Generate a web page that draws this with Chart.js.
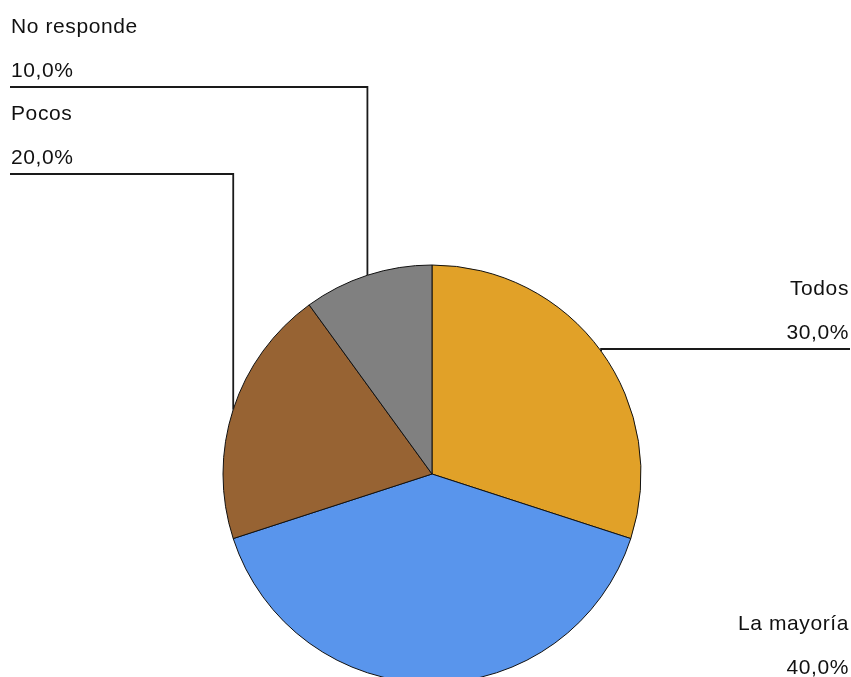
<!DOCTYPE html>
<html lang="es">
<head>
    <meta charset="UTF-8">
    <title>Distribución de respuestas</title>
    <script src="https://cdn.jsdelivr.net/npm/chart.js"></script>
    <style>
        html, body {
            margin: 0;
            padding: 0;
            background: #fff;
            overflow: hidden;
        }

        .chart-box {
            width: 851px;
            height: 700px;
            position: relative;
        }
    </style>
</head>
<body>
    <div class="chart-box">
        <canvas id="pieChart"></canvas>
    </div>

    <script>
        const categories = ["Todos", "La mayoría", "Pocos", "No responde"];
        const percentages = [30, 40, 20, 10];

        const sliceColors = ["#e1a128", "#5995ec", "#976333", "#808080"];

        // where each label's leader line ends up (side of the chart, y of the horizontal rule)
        const labelSpots = [
            { side: "right", lineY: 349 },
            { side: "right", lineY: 684 },
            { side: "left", lineY: 174 },
            { side: "left", lineY: 87 }
        ];

        const formatPct = v => v.toFixed(1).replace(".", ",") + "%";

        const leaderLabels = {
            id: "leaderLabels",
            afterDatasetsDraw(chart) {
                const ctx = chart.ctx;
                const arcs = chart.getDatasetMeta(0).data;
                ctx.save();
                ctx.strokeStyle = "#1a1a1a";
                ctx.lineWidth = 1.8;
                ctx.fillStyle = "#111";
                ctx.font = "21px Arial, 'Liberation Sans', sans-serif";
                ctx.textBaseline = "alphabetic";
                ctx.letterSpacing = "0.6px";

                arcs.forEach((arc, i) => {
                    const p = arc.getProps(["x", "y", "startAngle", "endAngle", "outerRadius"], true);
                    const mid = (p.startAngle + p.endAngle) / 2;
                    const ax = p.x + Math.cos(mid) * p.outerRadius;
                    const ay = p.y + Math.sin(mid) * p.outerRadius;
                    const spot = labelSpots[i];
                    const endX = spot.side === "left" ? 10 : 850;

                    ctx.beginPath();
                    ctx.moveTo(ax, ay);
                    ctx.lineTo(ax, spot.lineY);
                    ctx.lineTo(endX, spot.lineY);
                    ctx.stroke();

                    const tx = spot.side === "left" ? 11 : 849;
                    ctx.textAlign = spot.side;
                    ctx.fillText(categories[i], tx, spot.lineY - 54);
                    ctx.fillText(formatPct(percentages[i]), tx, spot.lineY - 10);
                });
                ctx.restore();
            }
        };

        new Chart(document.getElementById("pieChart"), {
            type: "pie",
            data: {
                labels: categories,
                datasets: [{
                    data: percentages,
                    backgroundColor: sliceColors,
                    borderColor: "#111",
                    borderWidth: 1
                }]
            },
            options: {
                responsive: true,
                maintainAspectRatio: false,
                animation: false,
                radius: 209,
                layout: { padding: { left: 223, right: 210, top: 265, bottom: 17 } },
                plugins: {
                    legend: { display: false },
                    tooltip: { enabled: false }
                }
            },
            plugins: [leaderLabels]
        });
    </script>
</body>
</html>
